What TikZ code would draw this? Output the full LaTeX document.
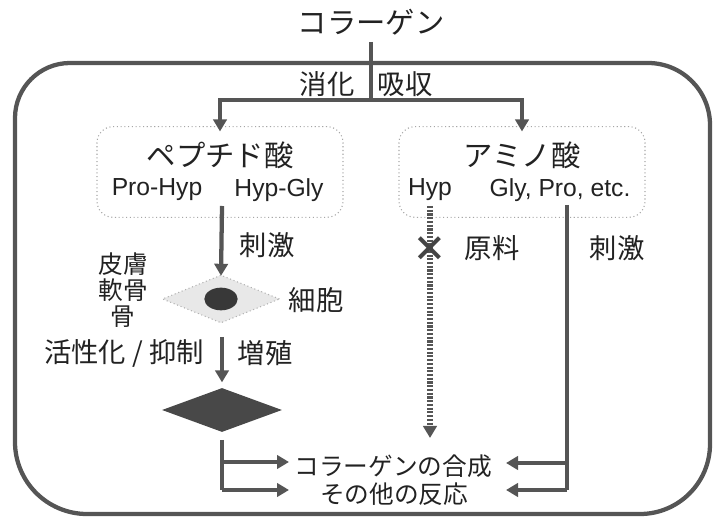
\documentclass[tikz,border=0pt]{standalone}
\usepackage{fontspec}
\setmainfont{Noto Sans CJK JP}
\newfontfamily\latfont{Liberation Sans}
\usetikzlibrary{arrows.meta,shapes.geometric}
\definecolor{ln}{HTML}{555555}
\definecolor{tx}{HTML}{222222}
\tikzset{
  line/.style={draw=ln, line width=3.2pt},
  arr/.style={line, -{Triangle[length=9pt,width=10pt]}},
  dotarr/.style={draw=ln, line width=3.8pt, dash pattern=on 1.6pt off 1.2pt, -{Triangle[length=9pt,width=10pt]}},
  box/.style={draw=gray!70, dotted, line width=0.8pt, rounded corners=12pt, minimum width=184.5pt, minimum height=68pt},
  big/.style={text=tx, font=\fontsize{22}{24}\selectfont, inner sep=0pt},
  lab/.style={text=tx, font=\fontsize{20.5}{23}\selectfont, inner sep=0pt},
  sml/.style={text=tx, font=\fontsize{18.5}{23}\selectfont, inner sep=0pt},
  lat/.style={text=tx, font=\latfont\fontsize{18.5}{21}\selectfont, inner sep=0pt},
}
\begin{document}
\begin{tikzpicture}[x=0.75pt,y=-0.75pt]
\useasboundingbox (0,0) rectangle (714,523);
% outer frame
\draw[line] (15,118) arc[start angle=180,end angle=270,radius=55] -- (648,63)
  arc[start angle=270,end angle=360,radius=62] -- (710,444)
  arc[start angle=0,end angle=90,radius=70] -- (87,514)
  arc[start angle=90,end angle=180,radius=72] -- cycle;
% title
\node[big] (col) at (371,22) {コラーゲン};
\coordinate (br) at (371,100);
\coordinate (top) at (371,42);
\node[lab] (sh) at (327,84) {消化};
\node[lab] (ky) at (405,84) {吸収};
% boxes
\node[box] (pep) at (220,172) {};
\node[box] (ami) at (522,172) {};
\node[big] (pept) at (220,155) {ペプチド酸};
\node[lat] (ph) at (157,190) {Pro-Hyp};
\node[lat] (hg) at (279,190) {Hyp-Gly};
\node[big] (amit) at (522,155) {アミノ酸};
\node[lat] (hyp) at (430,190) {Hyp};
\node[lat] (gpe) at (560,190) {Gly, Pro, etc.};
\draw[line] (top) -- (br);
\draw[arr] (br) -| ([yshift=-4pt]pep.north);
\draw[arr] (br) -| ([yshift=-4pt]ami.north);
% cell diamond
\node[diamond, draw=gray!60, dotted, fill=gray!18, line width=0.8pt, minimum width=88pt, minimum height=36pt, inner sep=0pt, aspect=2.5] (cell) at (221,299) {};
\fill[tx!90] (221,299) ellipse[x radius=12.5pt, y radius=8.5pt];
\draw[arr] (222,206) -- ([yshift=-1pt]cell.north);
\node[lab] (sg1) at (267,245) {刺激};
\node[sml] (hf) at (123,264) {皮膚};
\node[sml] (nk) at (123,290) {軟骨};
\node[sml] (ho) at (123,317) {骨};
\node[lab] (sb) at (316,300) {細胞};
\node[lab] (kk) at (124,353) {活性化 / 抑制};
\node[lab] (zs) at (265,353) {増殖};
% active diamond
\node[diamond, fill=ln!85!black, minimum width=90pt, minimum height=33pt, inner sep=0pt, aspect=2.7] (act) at (222,410) {};
\draw[arr] (222,337) -- ([yshift=4pt]act.north);
% outputs
\node[sml] (gs) at (393,466) {コラーゲンの合成};
\node[sml] (sn) at (394,494) {その他の反応};
\coordinate (a0) at (222,440);
\coordinate (a1) at (222,462);
\coordinate (a2) at (222,490);
\draw[line] (a0) -- (a2);
\draw[arr] (a1) -- (289,462);
\draw[arr] (a2) -- (289,490);
% right column
\coordinate (r0) at (567,205);
\coordinate (r1) at (567,463);
\coordinate (r2) at (567,490);
\draw[line] (r0) -- (r2);
\draw[arr] (r1) -- (506,463);
\draw[arr] (r2) -- (506,490);
\node[lab] (gr) at (492,248) {原料};
\node[lab] (sg2) at (617,248) {刺激};
% Hyp dotted
\coordinate (h0) at (430,206);
\coordinate (h1) at (430,438);
\draw[dotarr] (h0) -- (h1);
\node[text=ln!80!black, font=\fontsize{26}{26}\selectfont\bfseries, inner sep=0pt] (xm) at (430,249) {×};
\end{tikzpicture}
\end{document}
